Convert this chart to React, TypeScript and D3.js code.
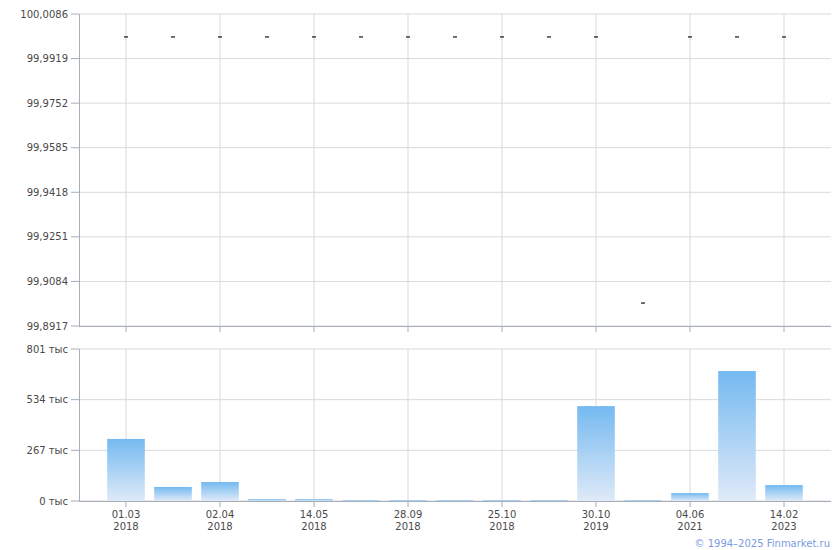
import React from "react";
import * as d3 from "d3";

const tickDates = ["01.03", "", "02.04", "", "14.05", "", "28.09", "", "25.10", "", "30.10", "", "04.06", "", "14.02"];
const tickYears = ["2018", "", "2018", "", "2018", "", "2018", "", "2018", "", "2019", "", "2021", "", "2023"];
const prices = [100, 100, 100, 100, 100, 100, 100, 100, 100, 100, 100, 99.9003, 100, 100, 100];
const volumes = [327, 74, 100, 10, 10, 5, 5, 5, 5, 5, 500, 4, 42, 685, 84];
const priceTicks = [99.8917, 99.9084, 99.9251, 99.9418, 99.9585, 99.9752, 99.9919, 100.0086];
const volumeTicks = [0, 267, 534, 801];

const W = 840;
const H = 550;
const left = 79;
const right = 831;
const topT = 14;
const topB = 326;
const botT = 349;
const botB = 501;

const FONT = "'DejaVu Sans', Verdana, sans-serif";
const TXT = "#4a4a4a";
const GRID = "#d5dbe0";
const AXIS = "#a8adb6";

export default function App() {
  const idx = prices.map((_, i) => i);
  const x = d3.scalePoint<number>().domain(idx).range([left, right]).padding(1);
  const yP = d3.scaleLinear().domain([priceTicks[0], priceTicks[priceTicks.length - 1]]).range([topB, topT]);
  const yV = d3.scaleLinear().domain([0, volumeTicks[volumeTicks.length - 1]]).range([botB, botT]);
  const barW = x.step() * 0.8;
  const fmtP = (v: number) => v.toFixed(4).replace(".", ",");
  const labeled = idx.filter((i) => tickDates[i] !== "");

  return (
    <svg width={W} height={H} style={{ position: "absolute", left: 0, top: 0, display: "block" }} fontFamily={FONT}>
      <defs>
        <linearGradient id="barGrad" x1="0" y1="0" x2="0" y2="1">
          <stop offset="0%" stopColor="#74b9f0" />
          <stop offset="100%" stopColor="#dfeaf8" />
        </linearGradient>
      </defs>
      <rect x={0} y={0} width={W} height={H} fill="#fff" />

      {priceTicks.map((t, i) => (
        <line key={"pg" + i} x1={left} x2={right} y1={yP(t)} y2={yP(t)} stroke={GRID} />
      ))}
      {labeled.map((i) => (
        <line key={"pv" + i} x1={x(i)!} x2={x(i)!} y1={topT} y2={topB} stroke={GRID} />
      ))}
      {volumeTicks.map((t, i) => (
        <line key={"vg" + i} x1={left} x2={right} y1={yV(t)} y2={yV(t)} stroke={GRID} />
      ))}
      {labeled.map((i) => (
        <line key={"vv" + i} x1={x(i)!} x2={x(i)!} y1={botT} y2={botB} stroke={GRID} />
      ))}

      {volumes.map((v, i) => (
        <rect
          key={"b" + i}
          x={x(i)! - barW / 2}
          y={yV(v)}
          width={barW}
          height={botB - yV(v)}
          fill="url(#barGrad)"
        />
      ))}

      {prices.map((p, i) => (
        <line key={"m" + i} x1={x(i)! - 2} x2={x(i)! + 2} y1={yP(p)} y2={yP(p)} stroke="#111" strokeWidth={1.2} />
      ))}

      <line x1={left + 0.5} x2={left + 0.5} y1={topT} y2={topB} stroke={AXIS} />
      <line x1={left} x2={right} y1={topB + 0.5} y2={topB + 0.5} stroke={AXIS} />
      {priceTicks.map((t, i) => (
        <g key={"pt" + i}>
          <line x1={left - 8} x2={left} y1={yP(t)} y2={yP(t)} stroke={AXIS} />
          <text x={68} y={yP(t)} dy="0.35em" textAnchor="end" fontSize={10} fill={TXT}>
            {fmtP(t)}
          </text>
        </g>
      ))}
      {labeled.map((i) => (
        <line key={"ptx" + i} x1={x(i)!} x2={x(i)!} y1={topB} y2={topB + 6} stroke={AXIS} />
      ))}

      <line x1={left + 0.5} x2={left + 0.5} y1={botT} y2={botB} stroke={AXIS} />
      <line x1={left} x2={right} y1={botB + 0.5} y2={botB + 0.5} stroke={AXIS} />
      {volumeTicks.map((t, i) => (
        <g key={"vt" + i}>
          <line x1={left - 8} x2={left} y1={yV(t)} y2={yV(t)} stroke={AXIS} />
          <text x={68} y={yV(t)} dy="0.35em" textAnchor="end" fontSize={10} fill={TXT}>
            {t + " тыс"}
          </text>
        </g>
      ))}
      {labeled.map((i) => (
        <g key={"vtx" + i}>
          <line x1={x(i)!} x2={x(i)!} y1={botB} y2={botB + 6} stroke={AXIS} />
          <text x={x(i)!} y={518} textAnchor="middle" fontSize={10} fill={TXT}>
            {tickDates[i]}
          </text>
          <text x={x(i)!} y={530} textAnchor="middle" fontSize={10} fill={TXT}>
            {tickYears[i]}
          </text>
        </g>
      ))}

      <text x={830} y={547} textAnchor="end" fontSize={10} fill="#7c9be2">
        © 1994–2025 Finmarket.ru
      </text>
    </svg>
  );
}
